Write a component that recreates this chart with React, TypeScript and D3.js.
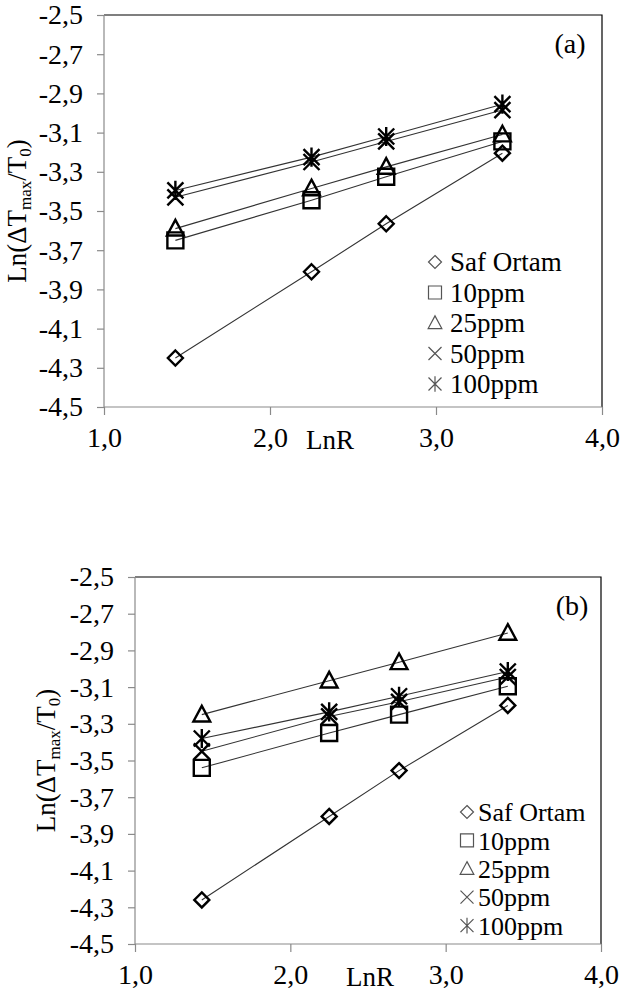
import React, { useEffect, useRef } from "react";
import * as d3 from "d3";

// LnR values shared by both panels
const X_VALUES = [1.43, 2.25, 2.7, 3.4];
const SERIES_NAMES = ["Saf Ortam", "10ppm", "25ppm", "50ppm", "100ppm"];
const SHAPES = ["diamond", "square", "triangle", "cross", "star"];

// panel (a)
const A_SAF = [-4.25, -3.81, -3.565, -3.205];
const A_10 = [-3.65, -3.445, -3.325, -3.145];
const A_25 = [-3.59, -3.385, -3.275, -3.11];
const A_50 = [-3.43, -3.25, -3.145, -2.985];
const A_100 = [-3.395, -3.225, -3.12, -2.955];

// panel (b)
const B_SAF = [-4.26, -3.805, -3.555, -3.2];
const B_10 = [-3.54, -3.35, -3.25, -3.095];
const B_25 = [-3.25, -3.065, -2.965, -2.805];
const B_50 = [-3.45, -3.26, -3.18, -3.045];
const B_100 = [-3.38, -3.235, -3.15, -3.015];

const X_TICKS = [1, 2, 3, 4];
const Y_TICKS = [-2.5, -2.7, -2.9, -3.1, -3.3, -3.5, -3.7, -3.9, -4.1, -4.3, -4.5];

const FONT = "Liberation Serif, Times New Roman, serif";

const markerPath = (shape, s) => {
  switch (shape) {
    case "diamond":
      return `M0,${-s}L${s},0L0,${s}L${-s},0Z`;
    case "square":
      return `M${-s},${-s}h${2 * s}v${2 * s}h${-2 * s}Z`;
    case "triangle":
      return `M0,${-s * 1.1}L${s * 1.05},${s * 0.85}L${-s * 1.05},${s * 0.85}Z`;
    case "cross":
      return `M${-s},${-s}L${s},${s}M${s},${-s}L${-s},${s}`;
    default:
      return `M${-s},${-s}L${s},${s}M${s},${-s}L${-s},${s}M0,${-s * 1.2}L0,${s * 1.2}`;
  }
};

const drawPanel = (svg, cfg) => {
  const g = svg.append("g");
  const x = d3.scaleLinear().domain([1, 4]).range([cfg.left, cfg.right]);
  const y = d3.scaleLinear().domain([-4.5, -2.5]).range([cfg.bottom, cfg.top]);
  const fmt = (v) => d3.format(".1f")(v).replace(".", ",").replace("−", "-");

  // plot area border (top/right dark)
  g.append("path")
    .attr("d", `M${cfg.left},${cfg.top}H${cfg.right}V${cfg.bottom}`)
    .attr("fill", "none")
    .attr("stroke", "#000")
    .attr("stroke-width", 1.2);

  const yAxis = g.append("g").attr("transform", `translate(${cfg.left},0)`)
    .call(d3.axisLeft(y).tickValues(Y_TICKS).tickSize(7).tickPadding(14).tickFormat(fmt));
  const xAxis = g.append("g").attr("transform", `translate(0,${cfg.bottom})`)
    .call(d3.axisBottom(x).tickValues(X_TICKS).tickSize(8).tickPadding(12).tickFormat(fmt));
  [yAxis, xAxis].forEach((a) => {
    a.attr("font-family", FONT).attr("font-size", 28);
    a.select(".domain").attr("stroke", "#8a8a8a").attr("stroke-width", 1.2);
    a.selectAll(".tick line").attr("stroke", "#8a8a8a").attr("stroke-width", 1.2);
    a.selectAll(".tick text").attr("fill", "#000");
  });
  xAxis.select(".domain").attr("d", `M${cfg.left},0H${cfg.right}`);
  yAxis.select(".domain").attr("d", `M0,${cfg.top}V${cfg.bottom}`);

  // x title
  g.append("text")
    .attr("x", cfg.xTitleX)
    .attr("y", cfg.bottom + 42)
    .attr("text-anchor", "middle")
    .attr("font-family", FONT)
    .attr("font-size", 27)
    .text("LnR");

  // y title
  const cy = (cfg.top + cfg.bottom) / 2;
  const yt = g.append("text")
    .attr("transform", `translate(${cfg.yTitleX},${cy}) rotate(-90)`)
    .attr("text-anchor", "middle")
    .attr("font-family", FONT)
    .attr("font-size", 27);
  yt.append("tspan").text("Ln(ΔT");
  yt.append("tspan").attr("dy", 5).attr("font-size", 17).text("max");
  yt.append("tspan").attr("dy", -5).text("/T");
  yt.append("tspan").attr("dy", 5).attr("font-size", 17).text("0");
  yt.append("tspan").attr("dy", -5).text(")");

  // panel label
  g.append("text")
    .attr("x", cfg.labelX)
    .attr("y", cfg.top + 38)
    .attr("text-anchor", "middle")
    .attr("font-family", FONT)
    .attr("font-size", 28)
    .text(cfg.label);

  const line = d3.line().x((d) => x(d[0])).y((d) => y(d[1]));

  cfg.series.forEach((vals) => {
    const pts = X_VALUES.map((xv, j) => [xv, vals[j]]);
    g.append("path")
      .attr("d", line(pts))
      .attr("fill", "none")
      .attr("stroke", "#333")
      .attr("stroke-width", 1.1);
  });
  cfg.series.forEach((vals, i) => {
    const s = SHAPES[i] === "diamond" ? 7.5 : 8;
    g.selectAll(null)
      .data(X_VALUES.map((xv, j) => [xv, vals[j]]))
      .enter()
      .append("path")
      .attr("transform", (d) => `translate(${x(d[0])},${y(d[1])})`)
      .attr("d", markerPath(SHAPES[i], s))
      .attr("fill", "none")
      .attr("stroke", "#000")
      .attr("stroke-width", 2.4);
  });

  // legend
  SERIES_NAMES.forEach((name, i) => {
    const ly = cfg.legendY + i * cfg.legendStep;
    g.append("path")
      .attr("transform", `translate(${cfg.legendMarkerX},${ly})`)
      .attr("d", markerPath(SHAPES[i], 6.5))
      .attr("fill", "none")
      .attr("stroke", "#555")
      .attr("stroke-width", 1.2);
    g.append("text")
      .attr("x", cfg.legendTextX)
      .attr("y", ly)
      .attr("dy", "0.35em")
      .attr("font-family", FONT)
      .attr("font-size", cfg.legendFont)
      .text(name);
  });
};

const App = () => {
  const ref = useRef(null);

  useEffect(() => {
    const svg = d3.select(ref.current);
    svg.selectAll("*").remove();
    drawPanel(svg, {
      left: 104, right: 602, top: 15, bottom: 407,
      series: [A_SAF, A_10, A_25, A_50, A_100],
      xTitleX: 330, yTitleX: 26, label: "(a)", labelX: 570,
      legendY: 262, legendStep: 30.5, legendMarkerX: 435, legendTextX: 450, legendFont: 27,
    });
    drawPanel(svg, {
      left: 135, right: 601, top: 577, bottom: 944,
      series: [B_SAF, B_10, B_25, B_50, B_100],
      xTitleX: 370, yTitleX: 55, label: "(b)", labelX: 572,
      legendY: 812, legendStep: 28.4, legendMarkerX: 467, legendTextX: 478, legendFont: 26,
    });
  }, []);

  return (
    <svg
      ref={ref}
      width={621}
      height={993}
      style={{ position: "absolute", left: 0, top: 0, background: "#fff" }}
    />
  );
};

export default App;
